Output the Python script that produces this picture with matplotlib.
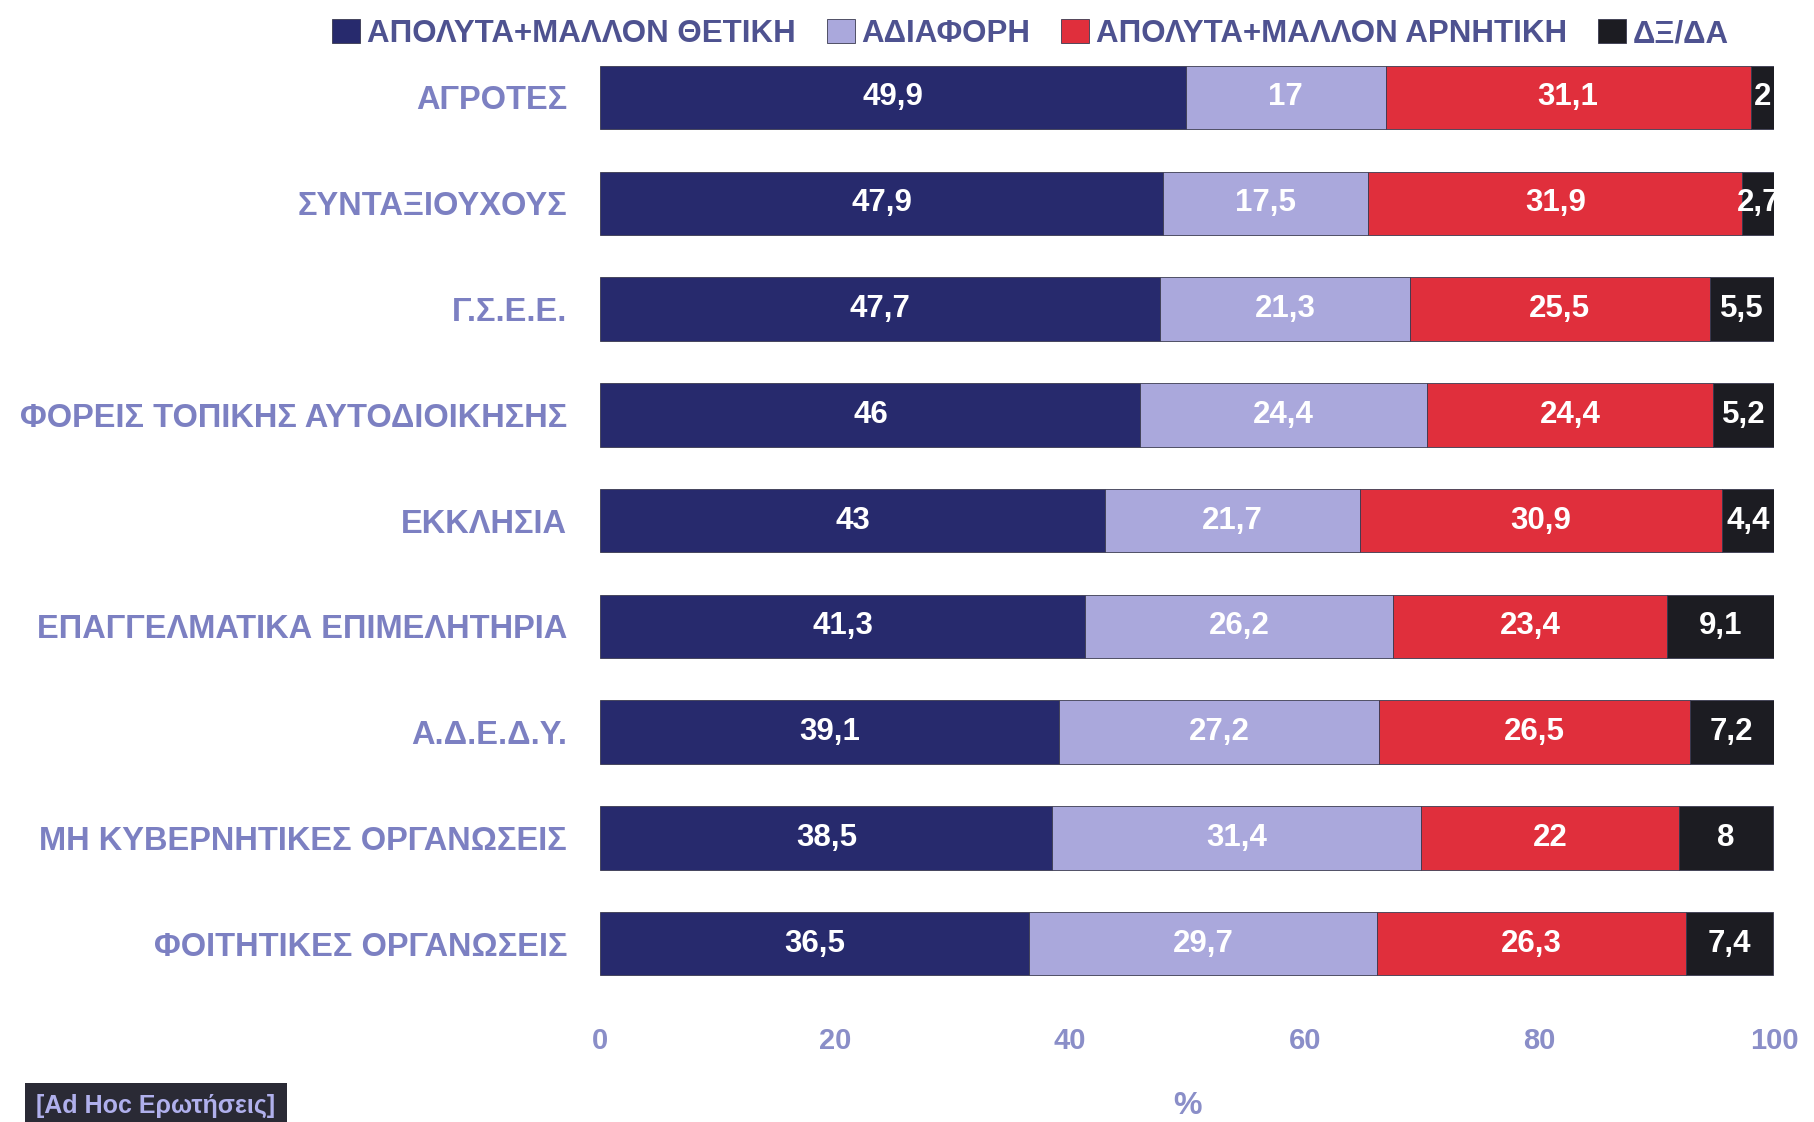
import matplotlib.pyplot as plt
import numpy as np

plt.rcParams['font.family'] = ['Liberation Sans', 'DejaVu Sans']

CATEGORIES = [
    "ΑΓΡΟΤΕΣ",
    "ΣΥΝΤΑΞΙΟΥΧΟΥΣ",
    "Γ.Σ.Ε.Ε.",
    "ΦΟΡΕΙΣ ΤΟΠΙΚΗΣ ΑΥΤΟΔΙΟΙΚΗΣΗΣ",
    "ΕΚΚΛΗΣΙΑ",
    "ΕΠΑΓΓΕΛΜΑΤΙΚΑ ΕΠΙΜΕΛΗΤΗΡΙΑ",
    "Α.Δ.Ε.Δ.Υ.",
    "ΜΗ ΚΥΒΕΡΝΗΤΙΚΕΣ ΟΡΓΑΝΩΣΕΙΣ",
    "ΦΟΙΤΗΤΙΚΕΣ ΟΡΓΑΝΩΣΕΙΣ",
]

POSITIVE = [49.9, 47.9, 47.7, 46, 43, 41.3, 39.1, 38.5, 36.5]
NEUTRAL = [17, 17.5, 21.3, 24.4, 21.7, 26.2, 27.2, 31.4, 29.7]
NEGATIVE = [31.1, 31.9, 25.5, 24.4, 30.9, 23.4, 26.5, 22, 26.3]
DK_NA = [2, 2.7, 5.5, 5.2, 4.4, 9.1, 7.2, 8, 7.4]

SERIES_NAMES = ["ΑΠΟΛΥΤΑ+ΜΑΛΛΟΝ ΘΕΤΙΚΗ", "ΑΔΙΑΦΟΡΗ",
                "ΑΠΟΛΥΤΑ+ΜΑΛΛΟΝ ΑΡΝΗΤΙΚΗ", "ΔΞ/ΔΑ"]
COLORS = ["#272a6d", "#aaa8dc", "#e02f3c", "#1c1c22"]

X_TICKS = [0, 20, 40, 60, 80, 100]


def fmt(v):
    s = f"{v:g}"
    return s.replace(".", ",")


fig = plt.figure(figsize=(18.14, 11.22), dpi=100)
ax = fig.add_axes([0.331, 0.107, 0.647, 0.858])

y = np.arange(len(CATEGORIES))
left = np.zeros(len(CATEGORIES))
handles = []
for name, vals, col in zip(SERIES_NAMES, [POSITIVE, NEUTRAL, NEGATIVE, DK_NA], COLORS):
    vals = np.array(vals, dtype=float)
    bars = ax.barh(y, vals, left=left, height=0.6, color=col, label=name,
                   edgecolor="#3a3a50", linewidth=0.6)
    handles.append(bars)
    for yi, l, v in zip(y, left, vals):
        ax.text(l + v / 2, yi, fmt(v), ha="center", va="center",
                color="white", fontsize=22.5, fontweight="bold")
    left += vals

ax.set_ylim(len(CATEGORIES) - 0.5 + 0.05, -0.5 - 0.05)
ax.set_xlim(0, 100)
ax.set_yticks(y)
ax.set_yticklabels(CATEGORIES, fontsize=23.5, fontweight="bold", color="#7c80c2")
ax.set_xticks(X_TICKS)
ax.set_xticklabels([str(t) for t in X_TICKS], fontsize=21, fontweight="bold",
                   color="#8a8ec8")
ax.tick_params(axis="both", length=0)
ax.tick_params(axis="y", pad=24)
ax.tick_params(axis="x", pad=18)
for s in ax.spines.values():
    s.set_visible(False)

ax.set_xlabel("%", fontsize=23, fontweight="bold", color="#8a8ec8", labelpad=26)

fig.legend(handles=handles, loc="upper center", bbox_to_anchor=(0.568, 1.008),
           ncol=4, frameon=False, handlelength=0.9,
           handleheight=0.8, handletextpad=0.2, columnspacing=1.0,
           labelcolor="#4e5290", prop={"weight": "bold", "size": 22.5})

fig.text(0.02, 0.008, "[Ad Hoc Ερωτήσεις]", fontsize=18, fontweight="bold",
         color="#b0b0ec",
         bbox=dict(boxstyle="square,pad=0.45", facecolor="#2a2a35",
                   edgecolor="none"))

plt.savefig("out.png", dpi=100)
